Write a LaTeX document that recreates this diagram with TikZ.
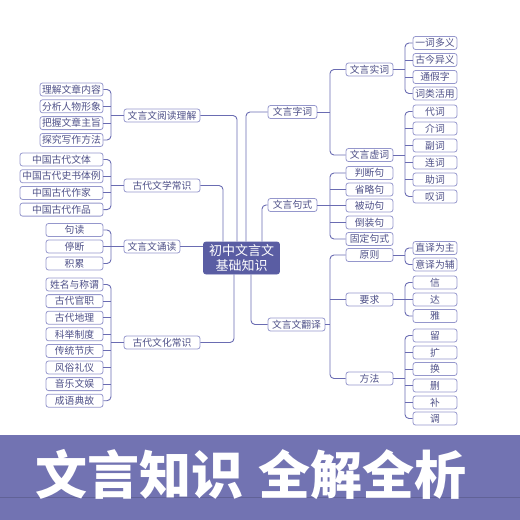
\documentclass[tikz,border=0pt]{standalone}
\usepackage{fontspec}
\newfontfamily\cjk{Noto Sans CJK SC}
\usepackage{tikz}
\usetikzlibrary{positioning}
\definecolor{linkc}{HTML}{6A6CB2}
\definecolor{boxc}{HTML}{9597CC}
\definecolor{textc}{HTML}{4E5088}
\definecolor{rootc}{HTML}{5A5DA3}
\definecolor{bannerc}{HTML}{7273B2}
\tikzstyle{every node}=[font=\cjk\fontsize{9.8}{10.5}\selectfont]
\tikzstyle{box}=[draw=boxc,line width=0.8pt,rounded corners=2.5pt,fill=white,text=textc,minimum height=13pt,inner sep=0pt]
\tikzstyle{link}=[draw=linkc,line width=0.9pt,rounded corners=4pt]

\begin{document}
\begin{tikzpicture}[x=1pt,y=-1pt]
\useasboundingbox (0,0) rectangle (520,520);
% root
\node[box,fill=rootc,draw=rootc,text=white,minimum width=76pt,minimum height=32pt,align=center,
  font=\cjk\fontsize{13}{14.5}\selectfont] (root) at (241.5,258) {初中文言文\\基础知识};
% left side
\node[box,minimum width=76pt] (yuedu) at (162,115.5) {文言文阅读理解};
\node[box,minimum width=63pt] (yd1) at (71.5,89.5) {理解文章内容};
\node[box,minimum width=63pt] (yd2) at (71.5,106.3) {分析人物形象};
\node[box,minimum width=63pt] (yd3) at (71.5,123.1) {把握文章主旨};
\node[box,minimum width=63pt] (yd4) at (71.5,140) {探究写作方法};
\node[box,minimum width=76pt] (wenxue) at (162,185.5) {古代文学常识};
\node[box,minimum width=83pt] (wx1) at (61.5,159.5) {中国古代文体};
\node[box,minimum width=83pt] (wx2) at (61.5,176.2) {中国古代史书体例};
\node[box,minimum width=83pt] (wx3) at (61.5,192.9) {中国古代作家};
\node[box,minimum width=83pt] (wx4) at (61.5,209.6) {中国古代作品};
\node[box,minimum width=56pt] (songdu) at (152,246.5) {文言文诵读};
\node[box,minimum width=57pt] (sd1) at (74.5,230) {句读};
\node[box,minimum width=57pt] (sd2) at (74.5,246.5) {停断};
\node[box,minimum width=57pt] (sd3) at (74.5,263.5) {积累};
\node[box,minimum width=76pt] (wenhua) at (162,342.5) {古代文化常识};
\node[box,minimum width=57pt] (wh1) at (74.5,284.5) {姓名与称谓};
\node[box,minimum width=57pt] (wh2) at (74.5,301.1) {古代官职};
\node[box,minimum width=57pt] (wh3) at (74.5,317.7) {古代地理};
\node[box,minimum width=57pt] (wh4) at (74.5,334.3) {科举制度};
\node[box,minimum width=57pt] (wh5) at (74.5,350.9) {传统节庆};
\node[box,minimum width=57pt] (wh6) at (74.5,367.5) {风俗礼仪};
\node[box,minimum width=57pt] (wh7) at (74.5,384.1) {音乐文娱};
\node[box,minimum width=57pt] (wh8) at (74.5,400.7) {成语典故};
% right side
\node[box,minimum width=49pt] (zici) at (292.5,112) {文言字词};
\node[box,minimum width=47pt] (shici) at (369.5,69.5) {文言实词};
\node[box,minimum width=44pt] (sc1) at (435,43) {一词多义};
\node[box,minimum width=44pt] (sc2) at (435,60) {古今异义};
\node[box,minimum width=44pt] (sc3) at (435,77) {通假字};
\node[box,minimum width=44pt] (sc4) at (435,93.5) {词类活用};
\node[box,minimum width=47pt] (xuci) at (369.5,155) {文言虚词};
\node[box,minimum width=44pt] (xc1) at (435,111.5) {代词};
\node[box,minimum width=44pt] (xc2) at (435,128.5) {介词};
\node[box,minimum width=44pt] (xc3) at (435,145.5) {副词};
\node[box,minimum width=44pt] (xc4) at (435,162.5) {连词};
\node[box,minimum width=44pt] (xc5) at (435,179.5) {助词};
\node[box,minimum width=44pt] (xc6) at (435,196.5) {叹词};
\node[box,minimum width=49pt] (jushi) at (292.5,205) {文言句式};
\node[box,minimum width=47pt] (js1) at (369.5,173) {判断句};
\node[box,minimum width=47pt] (js2) at (369.5,189.5) {省略句};
\node[box,minimum width=47pt] (js3) at (369.5,205.5) {被动句};
\node[box,minimum width=47pt] (js4) at (369.5,222.5) {倒装句};
\node[box,minimum width=47pt] (js5) at (369.5,239) {固定句式};
\node[box,minimum width=57pt] (fanyi) at (296.5,324.5) {文言文翻译};
\node[box,minimum width=47pt] (yuanze) at (369.5,255) {原则};
\node[box,minimum width=44pt] (yz1) at (435,248) {直译为主};
\node[box,minimum width=44pt] (yz2) at (435,264.5) {意译为辅};
\node[box,minimum width=47pt] (yaoqiu) at (369.5,299.5) {要求};
\node[box,minimum width=44pt] (yq1) at (435,282.5) {信};
\node[box,minimum width=44pt] (yq2) at (435,299.5) {达};
\node[box,minimum width=44pt] (yq3) at (435,316) {雅};
\node[box,minimum width=47pt] (fangfa) at (369.5,378.5) {方法};
\node[box,minimum width=44pt] (ff1) at (435,335.5) {留};
\node[box,minimum width=44pt] (ff2) at (435,352.5) {扩};
\node[box,minimum width=44pt] (ff3) at (435,369) {换};
\node[box,minimum width=44pt] (ff4) at (435,385.5) {删};
\node[box,minimum width=44pt] (ff5) at (435,402.5) {补};
\node[box,minimum width=44pt] (ff6) at (435,418.5) {调};
\coordinate (bl) at (111,0);
\coordinate (br) at (330,0);
\coordinate (bs) at (405,0);
% root to first level
\draw[link] (yuedu.east) -| ([xshift=-4.5pt]root.north);
\draw[link] (wenxue.east) -| ([xshift=-18.5pt]root.north);
\draw[link] (songdu.east) -- (songdu.east -| root.west);
\draw[link] (wenhua.east) -| ([xshift=-7.5pt]root.south);
\draw[link] (zici.west) -| ([xshift=4.5pt]root.north);
\draw[link] (jushi.west) -| ([xshift=20.5pt]root.north);
\draw[link] (fanyi.west) -| ([xshift=9.5pt]root.south);
% left brackets
\draw[link] (yd1.east) -- (yd1.east -| bl) -- (yd4.east -| bl) -- (yd4.east);
\draw[link] (yuedu.west) -- (yuedu.west -| bl) (yd2.east) -- (yd2.east -| bl) (yd3.east) -- (yd3.east -| bl);
\draw[link] (wx1.east) -- (wx1.east -| bl) -- (wx4.east -| bl) -- (wx4.east);
\draw[link] (wenxue.west) -- (wenxue.west -| bl) (wx2.east) -- (wx2.east -| bl) (wx3.east) -- (wx3.east -| bl);
\draw[link] (sd1.east) -- (sd1.east -| bl) -- (sd3.east -| bl) -- (sd3.east);
\draw[link] (songdu.west) -- (sd2.east);
\draw[link] (wh1.east) -- (wh1.east -| bl) -- (wh8.east -| bl) -- (wh8.east);
\draw[link] (wenhua.west) -- (wenhua.west -| bl) (wh2.east) -- (wh2.east -| bl) (wh3.east) -- (wh3.east -| bl)
  (wh4.east) -- (wh4.east -| bl) (wh5.east) -- (wh5.east -| bl) (wh6.east) -- (wh6.east -| bl) (wh7.east) -- (wh7.east -| bl);
% right brackets
\draw[link] (shici.west) -- (shici.west -| br) -- (xuci.west -| br) -- (xuci.west);
\draw[link] (zici.east) -- (zici.east -| br);
\draw[link] (sc1.west) -- (sc1.west -| bs) -- (sc4.west -| bs) -- (sc4.west);
\draw[link] (shici.east) -- (shici.east -| bs) (sc2.west) -- (sc2.west -| bs) (sc3.west) -- (sc3.west -| bs);
\draw[link] (xc1.west) -- (xc1.west -| bs) -- (xc6.west -| bs) -- (xc6.west);
\draw[link] (xuci.east) -- (xuci.east -| bs) (xc2.west) -- (xc2.west -| bs) (xc3.west) -- (xc3.west -| bs)
  (xc4.west) -- (xc4.west -| bs) (xc5.west) -- (xc5.west -| bs);
\draw[link] (js1.west) -- (js1.west -| br) -- (js5.west -| br) -- (js5.west);
\draw[link] (jushi.east) -- (jushi.east -| br) (js2.west) -- (js2.west -| br) (js3.west) -- (js3.west -| br) (js4.west) -- (js4.west -| br);
\draw[link] (yuanze.west) -- (yuanze.west -| br) -- (fangfa.west -| br) -- (fangfa.west);
\draw[link] (fanyi.east) -- (fanyi.east -| br) (yaoqiu.west) -- (yaoqiu.west -| br);
\draw[link] (yz1.west) -- (yz1.west -| bs) -- (yz2.west -| bs) -- (yz2.west);
\draw[link] (yuanze.east) -- (yuanze.east -| bs);
\draw[link] (yq1.west) -- (yq1.west -| bs) -- (yq3.west -| bs) -- (yq3.west);
\draw[link] (yaoqiu.east) -- (yq2.west);
\draw[link] (ff1.west) -- (ff1.west -| bs) -- (ff6.west -| bs) -- (ff6.west);
\draw[link] (fangfa.east) -- (fangfa.east -| bs) (ff2.west) -- (ff2.west -| bs) (ff3.west) -- (ff3.west -| bs)
  (ff4.west) -- (ff4.west -| bs) (ff5.west) -- (ff5.west -| bs);
% banner
\fill[bannerc] (0,435) rectangle (520,520);
\draw[bannerc!85!black,line width=0.6pt] (0,497) -- (520,497);
\node[text=white,font=\cjk\bfseries\fontsize{52}{56}\selectfont] (title) at (251,474) {文言知识\hspace{0.3em}全解全析};
\end{tikzpicture}
\end{document}
